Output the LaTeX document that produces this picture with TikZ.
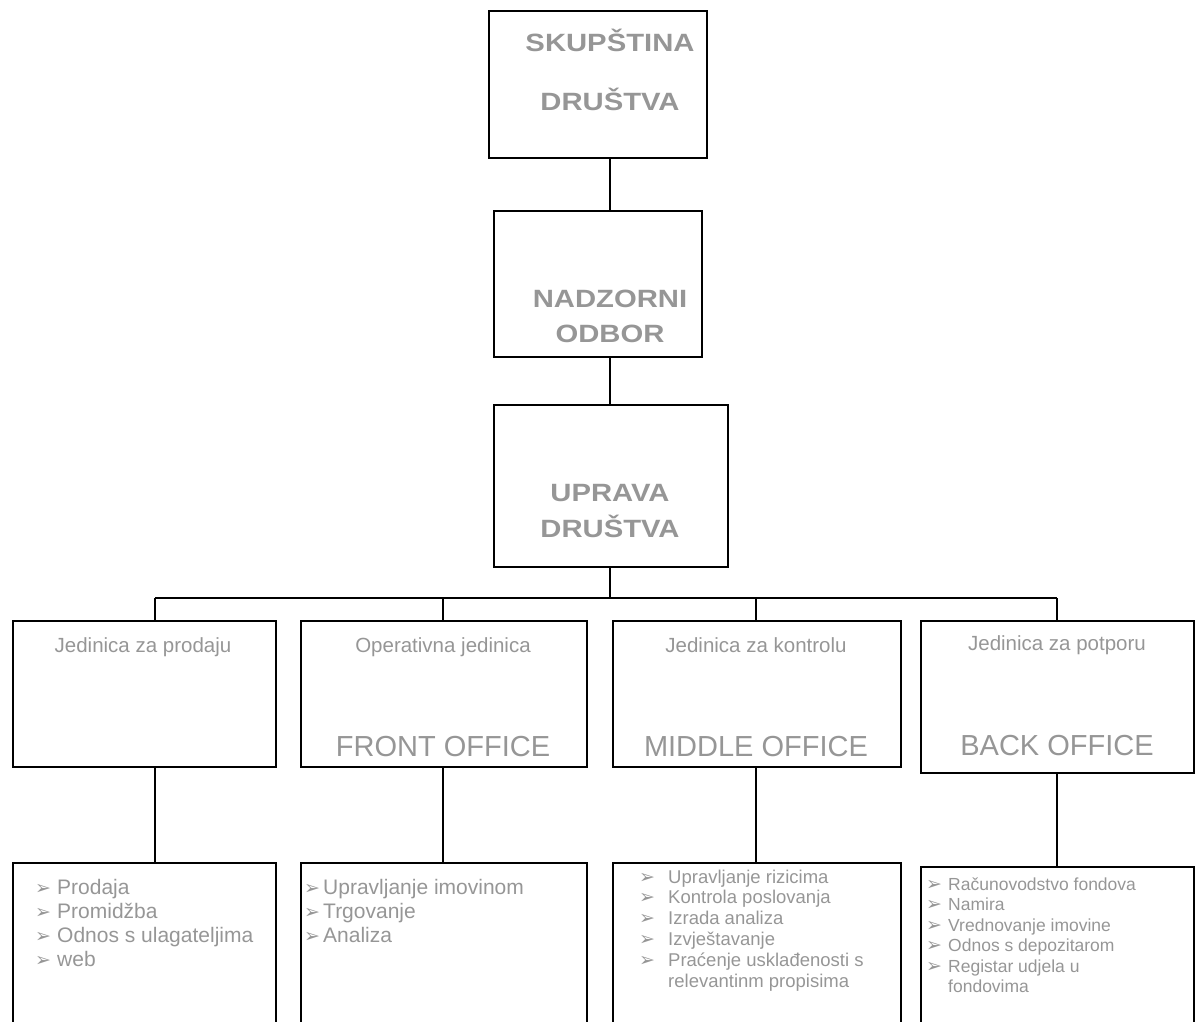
\documentclass[tikz,border=0pt]{standalone}
\usepackage{fontspec}
\setmainfont{Liberation Sans}
\newfontfamily\headfont[FakeStretch=1.17]{Liberation Sans}
\newfontfamily\dingfont{DejaVu Sans}
\usetikzlibrary{positioning}
\definecolor{txtgray}{RGB}{150,150,150}
\newcommand{\arr}{{\dingfont\fontsize{19}{19}\selectfont\char"27A2}}

\tikzstyle{board} = [rectangle, draw=black, line width=2pt, inner sep=0pt, anchor=north west]
\tikzstyle{head} = [text=txtgray, font=\headfont\bfseries\fontsize{25}{29}\selectfont, anchor=base, inner sep=0pt]
\tikzstyle{title} = [text=txtgray, font=\fontsize{20.5}{24}\selectfont, anchor=base, inner sep=0pt]
\tikzstyle{office} = [text=txtgray, font=\fontsize{29}{34}\selectfont, anchor=base, inner sep=0pt]
\tikzstyle{tasks} = [text=txtgray, anchor=base west, inner sep=0pt]
\tikzstyle{line} = [line width=1.8pt]

\begin{document}
\begin{tikzpicture}[x=1pt, y=-1pt]

    \useasboundingbox (0,0) rectangle (1195,1022);

    % top of the company
    \node (skup) [board, minimum width=218pt, minimum height=147pt] at (488,10) {};
    \node (nadz) [board, minimum width=208pt, minimum height=146pt] at (493,210) {};
    \node (upr) [board, minimum width=234pt, minimum height=162pt] at (493,404) {};

    \node (skup1) [head] at (610,52) {SKUPŠTINA};
    \node (skup2) [head] at (610,111) {DRUŠTVA};
    \node (nadz1) [head] at (610,307) {NADZORNI};
    \node (nadz2) [head] at (610,342) {ODBOR};
    \node (upr1) [head] at (610,501) {UPRAVA};
    \node (upr2) [head] at (610,537) {DRUŠTVA};

    % units
    \node (u1) [board, minimum width=263pt, minimum height=146pt] at (12,620) {};
    \node (u2) [board, minimum width=286pt, minimum height=146pt] at (300,620) {};
    \node (u3) [board, minimum width=288pt, minimum height=146pt] at (612,620) {};
    \node (u4) [board, minimum width=273pt, minimum height=152pt] at (920,620) {};

    \node (u1t) [title] at (143,652) {Jedinica za prodaju};
    \node (u2t) [title] at (443,652) {Operativna jedinica};
    \node (u3t) [title] at (756,652) {Jedinica za kontrolu};
    \node (u4t) [title] at (1057,650) {Jedinica za potporu};

    \node (u2o) [office] at (443,756) {FRONT OFFICE};
    \node (u3o) [office] at (756,756) {MIDDLE OFFICE};
    \node (u4o) [office] at (1057,755) {BACK OFFICE};

    % tasks of the units
    \node (l1) [board, minimum width=263pt, minimum height=180pt] at (12,862) {};
    \node (l2) [board, minimum width=286pt, minimum height=180pt] at (300,862) {};
    \node (l3) [board, minimum width=288pt, minimum height=180pt] at (612,862) {};
    \node (l4) [board, minimum width=273pt, minimum height=180pt] at (920,866) {};

    \node (l1t) [tasks, font=\fontsize{21}{24}\selectfont] at (35,894) {%
        \begin{tabular}[t]{@{}p{22pt}@{}l@{}}
        \arr & Prodaja\\
        \arr & Promidžba\\
        \arr & Odnos s ulagateljima\\
        \arr & web
        \end{tabular}};
    \node (l2t) [tasks, font=\fontsize{21}{24}\selectfont] at (304,894) {%
        \begin{tabular}[t]{@{}p{19pt}@{}l@{}}
        \arr & Upravljanje imovinom\\
        \arr & Trgovanje\\
        \arr & Analiza
        \end{tabular}};
    \node (l3t) [tasks, font=\fontsize{18.5}{20.8}\selectfont] at (639,883) {%
        \begin{tabular}[t]{@{}p{29pt}@{}l@{}}
        \arr & Upravljanje rizicima\\
        \arr & Kontrola poslovanja\\
        \arr & Izrada analiza\\
        \arr & Izvještavanje\\
        \arr & Praćenje usklađenosti s\\
             & relevantinm propisima
        \end{tabular}};
    \node (l4t) [tasks, font=\fontsize{17.5}{20.5}\selectfont] at (926,890) {%
        \begin{tabular}[t]{@{}p{22pt}@{}l@{}}
        \arr & Računovodstvo fondova\\
        \arr & Namira\\
        \arr & Vrednovanje imovine\\
        \arr & Odnos s depozitarom\\
        \arr & Registar udjela u\\
             & fondovima
        \end{tabular}};

    % connectors
    \coordinate (trunk) at (610,598);
    \coordinate (d1) at (155,598);
    \coordinate (d2) at (443,598);
    \coordinate (d3) at (756,598);
    \coordinate (d4) at (1057,598);

    \draw [line] (skup.south -| trunk) -- (nadz.north -| trunk);
    \draw [line] (nadz.south -| trunk) -- (upr.north -| trunk);
    \draw [line] (upr.south -| trunk) -- (trunk);
    \draw [line] (d1) -- (d4);
    \draw [line] (d1) -- (d1 |- u1.north);
    \draw [line] (d2) -- (d2 |- u2.north);
    \draw [line] (d3) -- (d3 |- u3.north);
    \draw [line] (d4) -- (d4 |- u4.north);
    \draw [line] (u1.south -| d1) -- (l1.north -| d1);
    \draw [line] (u2.south -| d2) -- (l2.north -| d2);
    \draw [line] (u3.south -| d3) -- (l3.north -| d3);
    \draw [line] (u4.south -| d4) -- (l4.north -| d4);

\end{tikzpicture}
\end{document}
